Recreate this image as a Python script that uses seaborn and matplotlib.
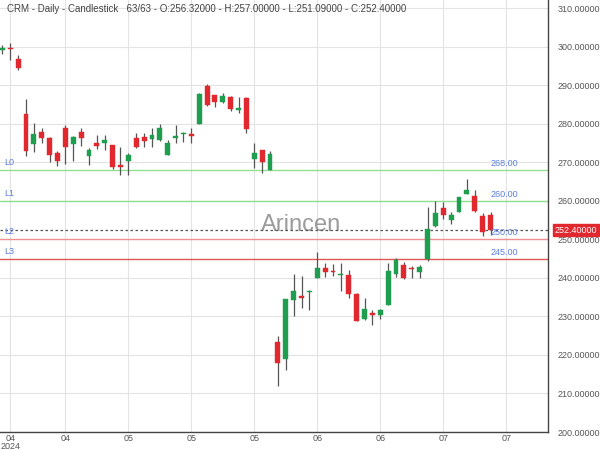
import matplotlib
matplotlib.use("Agg")
import matplotlib.pyplot as plt
import seaborn as sns
import numpy as np

opens = [299.0, 299.6, 296.9, 282.5, 274.7, 277.8, 276.3, 272.4, 279.0, 274.7,
         277.9, 271.6, 275.1, 275.0, 274.5, 269.4, 270.3, 276.2, 276.6, 276.0,
         275.8, 272.0, 276.4, 277.2, 277.1, 279.9, 289.8, 287.4, 285.6, 286.9,
         283.5, 286.6, 270.9, 273.2, 268.0, 223.3, 219.0, 234.3, 235.2, 236.2,
         239.9, 242.6, 241.7, 240.8, 240.8, 235.9, 229.3, 230.9, 230.4, 232.9,
         241.0, 243.3, 242.4, 241.6, 244.9, 253.5, 258.1, 254.9, 257.1, 261.8,
         261.2, 256.0, 256.32]
highs = [300.3, 301.0, 297.8, 286.3, 280.3, 278.8, 276.5, 273.0, 279.7, 276.9,
         278.9, 273.6, 277.0, 277.1, 274.6, 273.9, 272.5, 277.5, 277.5, 278.8,
         279.9, 275.8, 279.6, 277.8, 278.9, 287.9, 290.2, 287.5, 287.9, 287.3,
         286.9, 287.0, 275.0, 273.3, 273.0, 224.9, 234.6, 241.0, 240.4, 236.9,
         246.6, 243.8, 243.5, 243.8, 242.1, 236.0, 234.9, 231.7, 232.0, 243.8,
         245.1, 244.0, 243.0, 243.4, 258.4, 260.0, 259.7, 257.1, 261.1, 265.7,
         262.7, 256.9, 257.0]
lows = [298.2, 296.6, 294.0, 271.7, 272.6, 275.0, 270.0, 269.0, 269.6, 270.4,
        274.3, 269.4, 273.4, 273.3, 268.2, 266.6, 266.6, 273.6, 274.0, 274.0,
        275.6, 272.0, 275.0, 275.3, 275.0, 279.9, 284.6, 284.3, 285.3, 283.3,
        282.9, 277.5, 268.5, 267.2, 267.9, 212.0, 216.1, 230.2, 232.2, 231.6,
        239.9, 240.3, 240.5, 236.5, 234.8, 228.7, 229.1, 227.7, 229.3, 232.9,
        240.3, 239.8, 239.9, 239.9, 244.4, 253.2, 255.4, 254.1, 257.1, 261.8,
        257.2, 250.8, 251.09]
closes = [299.6, 299.3, 294.5, 272.8, 277.4, 276.4, 271.9, 270.4, 273.9, 276.5,
          276.2, 273.2, 274.3, 275.9, 268.7, 268.7, 272.0, 273.9, 275.6, 277.1,
          278.9, 275.0, 276.7, 277.5, 276.9, 287.6, 284.8, 285.6, 287.2, 283.7,
          284.0, 278.6, 272.4, 270.0, 272.1, 218.0, 234.5, 236.5, 234.8, 236.6,
          242.6, 241.6, 241.5, 241.1, 235.8, 228.9, 231.9, 230.4, 231.7, 241.8,
          244.6, 239.9, 242.2, 242.9, 252.8, 256.9, 256.2, 256.2, 260.9, 262.9,
          257.3, 252.0, 252.4]

tick_positions = [1, 8, 16, 24, 32, 40, 48, 56, 64]
tick_labels = ["04\n2024", "04", "05", "05", "05", "06", "06", "07", "07"]

level_names = ["L0", "L1", "L2", "L3"]
level_values = [268.0, 260.0, 250.0, 245.0]
level_colors = ["#8fe08f", "#8fe08f", "#f09090", "#e05555"]
last_price = 252.40

sns.set_theme(style="whitegrid")
plt.rcParams['font.family'] = ['Liberation Sans', 'DejaVu Sans']

fig = plt.figure(figsize=(6, 4.5), dpi=100)
ax = fig.add_axes([0.0, 0.04, 0.9133, 0.96])
ax.set_facecolor("white")

x = np.arange(len(opens))
o = np.array(opens); c = np.array(closes); h = np.array(highs); l = np.array(lows)
up = c >= o
green = "#1f9e4f"
red = "#e0282e"
colors = np.where(up, green, red)

ax.vlines(x, l, h, color="#555555", linewidth=0.9, zorder=3)
bottoms = np.minimum(o, c)
heights = np.maximum(np.abs(c - o), 0.3)
ax.bar(x, heights, bottom=bottoms, width=0.62, color=colors, edgecolor=colors,
       linewidth=0.3, zorder=4)

for name, val, col in zip(level_names, level_values, level_colors):
    ax.axhline(val, color=col, linewidth=1.0, zorder=2)
    ax.text(0.3, val + 0.8, name, color="#5a7de0", fontsize=6.5, ha="left",
            va="bottom", zorder=5)
    ax.text(62.0, val + 0.5, f"{val:.2f}", color="#5a7de0", fontsize=6.5,
            ha="left", va="bottom", zorder=5)

ax.axhline(last_price, color="#555555", linewidth=0.9, linestyle=(0, (2, 2)), zorder=2)

ax.text(38.0, 253.6, "Arincen", fontsize=17, color="#8a8a8a", alpha=0.85,
        ha="center", va="center", zorder=1)

ax.set_xlim(-0.3, 69.3)
ax.set_ylim(200.6, 312.1)
ax.yaxis.tick_right()
ax.set_yticks(np.arange(200, 311, 10))
ax.set_yticklabels([f"{v:.5f}" for v in np.arange(200, 311, 10)])
ax.set_xticks(tick_positions)
ax.set_xticklabels(tick_labels, linespacing=0.9)
ax.tick_params(axis="both", labelsize=6.5, labelcolor="#555555", length=0)
ax.tick_params(axis="x", pad=1.5)
ax.tick_params(axis="y", pad=7)
ax.grid(True, color="#e3e3e3", linewidth=0.8)
ax.set_axisbelow(True)

for side in ["top", "left"]:
    ax.spines[side].set_visible(False)
for side in ["right", "bottom"]:
    ax.spines[side].set_visible(True)
    ax.spines[side].set_color("#444444")
    ax.spines[side].set_linewidth(1.0)

ax.text(0.012, 0.99, "CRM - Daily - Candlestick   63/63 - O:256.32000 - H:257.00000 - L:251.09000 - C:252.40000",
        transform=ax.transAxes, fontsize=7, color="#444444", ha="left", va="top")

ax.annotate(f"{last_price:.5f}", xy=(1.0, last_price), xycoords=("axes fraction", "data"),
            xytext=(5, 0), textcoords="offset points", fontsize=6.5, color="white",
            ha="left", va="center",
            bbox=dict(boxstyle="square,pad=0.2", fc="#e0282e", ec="#e0282e"), zorder=6)

fig.savefig("out.png", dpi=100, facecolor="white")
